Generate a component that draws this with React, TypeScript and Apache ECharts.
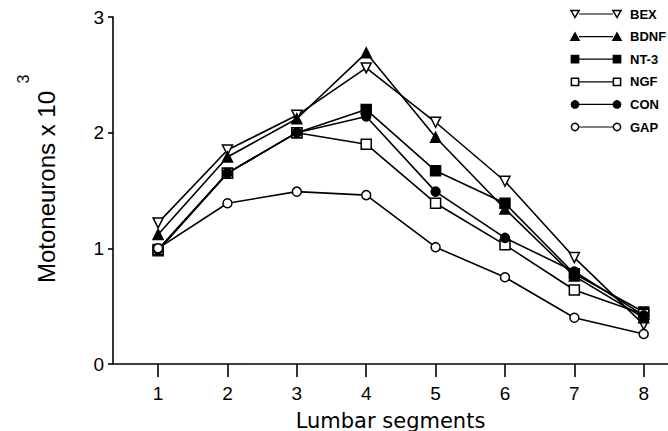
import React, { useEffect, useRef } from "react";
import * as echarts from "echarts";

const segments = [1, 2, 3, 4, 5, 6, 7, 8];
const yTicks = [0, 1, 2, 3];

const seriesNames = ["BEX", "BDNF", "NT-3", "NGF", "CON", "GAP"];
const BEX = [1.22, 1.85, 2.15, 2.56, 2.09, 1.58, 0.92, 0.34];
const BDNF = [1.12, 1.79, 2.12, 2.69, 1.96, 1.34, 0.76, 0.4];
const NT3 = [0.98, 1.65, 2.0, 2.2, 1.67, 1.39, 0.78, 0.45];
const NGF = [0.99, 1.65, 2.0, 1.9, 1.39, 1.03, 0.64, 0.43];
const CON = [0.99, 1.65, 2.0, 2.14, 1.49, 1.09, 0.8, 0.42];
const GAP = [1.0, 1.39, 1.49, 1.46, 1.01, 0.75, 0.4, 0.26];
const seriesValues = [BEX, BDNF, NT3, NGF, CON, GAP];

// marker: shape, filled, rotate
const markers: { shape: string; filled: boolean; rotate: number }[] = [
  { shape: "triangle", filled: false, rotate: 180 },
  { shape: "triangle", filled: true, rotate: 0 },
  { shape: "rect", filled: true, rotate: 0 },
  { shape: "rect", filled: false, rotate: 0 },
  { shape: "circle", filled: true, rotate: 0 },
  { shape: "circle", filled: false, rotate: 0 },
];

function legendMarker(shape: string, filled: boolean, rotate: number, cx: number, cy: number) {
  const style = { fill: filled ? "#000" : "#fff", stroke: "#000", lineWidth: 1.5 };
  const r = 3.6;
  if (shape === "circle") return { type: "circle", shape: { cx, cy, r }, style, z: 10 };
  if (shape === "rect")
    return { type: "rect", shape: { x: cx - r, y: cy - r, width: 2 * r, height: 2 * r }, style, z: 10 };
  const pts =
    rotate === 180
      ? [[cx - r - 0.5, cy - r], [cx + r + 0.5, cy - r], [cx, cy + r]]
      : [[cx - r - 0.5, cy + r], [cx + r + 0.5, cy + r], [cx, cy - r]];
  return { type: "polygon", shape: { points: pts }, style, z: 10 };
}

export default function App() {
  const ref = useRef<HTMLDivElement>(null);
  useEffect(() => {
    if (!ref.current) return;
    const chart = echarts.init(ref.current, undefined, { renderer: "svg" });

    const series = seriesNames.map((name, i) => ({
      name,
      type: "line",
      data: segments.map((s, j) => [s, seriesValues[i][j]]),
      symbol: markers[i].shape,
      symbolSize: markers[i].shape === "circle" ? 9 : 10,
      symbolRotate: markers[i].rotate,
      showAllSymbol: true,
      lineStyle: { color: "#000", width: 1.6 },
      itemStyle: {
        color: markers[i].filled ? "#000" : "#fff",
        borderColor: "#000",
        borderWidth: 1.5,
      },
      z: 2 + i,
    }));

    const legendGraphics: any[] = [];
    seriesNames.forEach((name, i) => {
      const cy = 14 + 22.6 * i;
      const m = markers[i];
      legendGraphics.push({
        type: "line",
        shape: { x1: 579, y1: cy, x2: 613, y2: cy },
        style: { stroke: "#000", lineWidth: 1.2 },
      });
      legendGraphics.push(legendMarker(m.shape, m.filled, m.rotate, 575, cy));
      legendGraphics.push(legendMarker(m.shape, m.filled, m.rotate, 617, cy));
      legendGraphics.push({
        type: "text",
        x: 630,
        y: cy,
        style: {
          text: name,
          fontFamily: "Liberation Sans",
          fontWeight: "bold",
          fontSize: 13,
          fill: "#000",
          verticalAlign: "middle",
          align: "left",
        },
      });
    });

    const option: any = {
      animation: false,
      backgroundColor: "#fff",
      grid: { left: 113, right: 0, top: 17, bottom: 67, containLabel: false, outerBoundsMode: "none" },
      xAxis: {
        type: "value",
        min: 0.35,
        max: 8.35,
        axisLine: { lineStyle: { color: "#000", width: 1.6 } },
        axisTick: { customValues: segments, length: 13, lineStyle: { color: "#000", width: 1.6 } },
        axisLabel: {
          customValues: segments,
          fontSize: 19,
          fontFamily: "Liberation Sans",
          color: "#000",
          margin: 20,
        },
        splitLine: { show: false },
        name: "Lumbar segments",
        nameLocation: "middle",
        nameGap: 46,
        nameTextStyle: { fontSize: 21, fontFamily: "DejaVu Sans", color: "#000" },
      },
      yAxis: {
        type: "value",
        min: 0,
        max: 3,
        interval: 1,
        axisLine: { show: true, lineStyle: { color: "#000", width: 1.6 } },
        axisTick: { show: true, length: 5, lineStyle: { color: "#000", width: 1.6 } },
        axisLabel: {
          fontSize: 19,
          fontFamily: "Liberation Sans",
          color: "#000",
          margin: 9,
          customValues: yTicks,
        },
        splitLine: { show: false },
      },
      graphic: [
        {
          type: "text",
          x: 46,
          y: 187,
          rotation: Math.PI / 2,
          style: {
            text: "Motoneurons x 10",
            fontFamily: "Liberation Sans",
            fontSize: 24,
            fill: "#000",
            align: "center",
            verticalAlign: "middle",
          },
        },
        {
          type: "text",
          x: 23,
          y: 79,
          rotation: Math.PI / 2,
          style: {
            text: "3",
            fontFamily: "Liberation Sans",
            fontSize: 16,
            fill: "#000",
            align: "center",
            verticalAlign: "middle",
          },
        },
        ...legendGraphics,
      ],
      series,
    };
    chart.setOption(option);
    return () => chart.dispose();
  }, []);
  return <div ref={ref} style={{ width: 668, height: 431, position: "absolute", left: 0, top: 0 }} />;
}
